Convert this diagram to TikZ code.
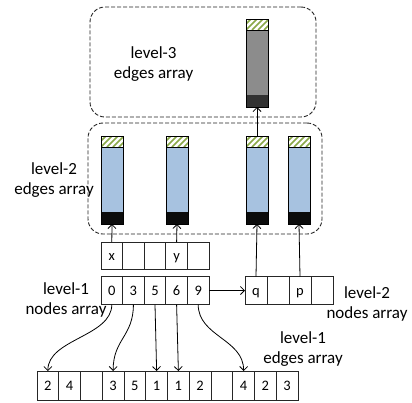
\documentclass[tikz,border=0pt]{standalone}
\usepackage{fontspec}
\setmainfont{Carlito}
\usetikzlibrary{arrows.meta}

\definecolor{hatchgreen}{RGB}{137,168,72}
\definecolor{colblue}{RGB}{167,194,224}
\definecolor{colgray}{RGB}{140,140,140}
\definecolor{basedark}{RGB}{50,50,50}
\definecolor{baseblack}{RGB}{12,12,12}
\definecolor{framegray}{RGB}{35,35,35}

% inside of an edge column: hatched head, coloured body, solid base
\newcommand\columninside[1]{%
  \fill[white] (path picture bounding box.north west) rectangle
    ([yshift=-11pt]path picture bounding box.north east);
  \foreach \k in {-12,-6,...,24}
    \draw[hatchgreen, line width=1.7pt]
      ([xshift=\k pt, yshift=-11pt]path picture bounding box.north west) -- ++(11pt,11pt);
  \draw[line width=0.6pt] ([yshift=-11pt]path picture bounding box.north west) --
    ([yshift=-11pt]path picture bounding box.north east);
  \fill[#1] (path picture bounding box.south west) rectangle
    ([yshift=12pt]path picture bounding box.south east);
}

\tikzset{
  x=1pt, y=-1pt,
  column/.style 2 args={draw=black, line width=0.8pt, fill=#1,
    minimum width=22pt, minimum height=88pt, inner sep=0pt, outer sep=0pt,
    path picture={\columninside{#2}}},
  grp/.style={draw=framegray, line width=0.9pt, dash pattern=on 4pt off 2pt,
    rounded corners=15pt, inner sep=0pt},
  cell/.style={draw=black!85, line width=0.8pt, inner sep=0pt, outer sep=0pt,
    minimum height=28pt, text height=10pt, text depth=0pt,
    font=\fontsize{14.5}{16}\selectfont},
  lbl/.style={align=center, inner sep=0pt, font=\fontsize{17}{20}\selectfont},
  arr/.style={-{Straight Barb[length=4pt,width=8pt]}, line width=0.8pt},
}

\begin{document}
\begin{tikzpicture}
\useasboundingbox (0,0) rectangle (412,402);

% dashed group frames
\node[grp, minimum width=226pt, minimum height=110pt] (grpthree) at (203,62) {};
\node[grp, minimum width=234pt, minimum height=111pt] (grptwo) at (205,178.5) {};

% edge columns
\node[column={colgray}{basedark}] (lthree) at (257,63) {};
\node[column={colblue}{baseblack}] (ca) at (112,180) {};
\node[column={colblue}{baseblack}] (cb) at (177,180) {};
\node[column={colblue}{baseblack}] (cc) at (257,180) {};
\node[column={colblue}{baseblack}] (cd) at (299,180) {};

% level-1 index rows
\foreach \t [count=\i] in {x,{},{},y,{}}
  \node[cell, minimum width=21.6pt, minimum height=27pt] (x\i) at ({101+21.6*(\i-0.5)},255.5) {\t};
\foreach \t [count=\i] in {0,3,5,6,9}
  \node[cell, minimum width=21.6pt] (n\i) at ({101+21.6*(\i-0.5)},290.5) {\t};

% level-2 nodes array
\foreach \t [count=\i] in {q,{},p,{}}
  \node[cell, minimum width=22pt] (q\i) at ({245+22*(\i-0.5)},290.5) {\t};

% level-1 edges array
\foreach \t [count=\i] in {2,4,{},3,5,1,1,2,{},4,2,3}
  \node[cell, minimum width=21.75pt, minimum height=29pt] (e\i) at ({37+21.75*(\i-0.5)},385.5) {\t};

% labels
\node[lbl] (lbthree) at (153.5,64) {level-3\\edges array};
\node[lbl] (lbtwo) at (54,180) {level-2\\edges array};
\node[lbl] (lbnodesone) at (66,300) {level-1\\nodes array};
\node[lbl] (lbnodestwo) at (367,304) {level-2\\nodes array};
\node[lbl] (lbedgesone) at (303,349) {level-1\\edges array};

% connectors
\draw[arr] (x1.north) -- (ca.south);
\draw[arr] (x4.north) -- (cb.south);
\draw[arr] (q1.north) -- (cc.south);
\draw[arr] (q3.north) -- (cd.south);
\draw[arr] (cc.north) -- (lthree.south);
\draw[arr] (n5.east) -- (q1.west);

\draw[arr] (n1.south) .. controls +(0,32) and +(0,-32) .. (e1.north);
\draw[arr] (n2.south) .. controls +(0,32) and +(0,-32) .. (e4.north);
\draw[arr] (n3.south) -- (e6.north);
\draw[arr] (n4.south) -- (e7.north);
\draw[arr] (n5.south) .. controls +(0,32) and +(0,-32) .. (e10.north);
\end{tikzpicture}
\end{document}
